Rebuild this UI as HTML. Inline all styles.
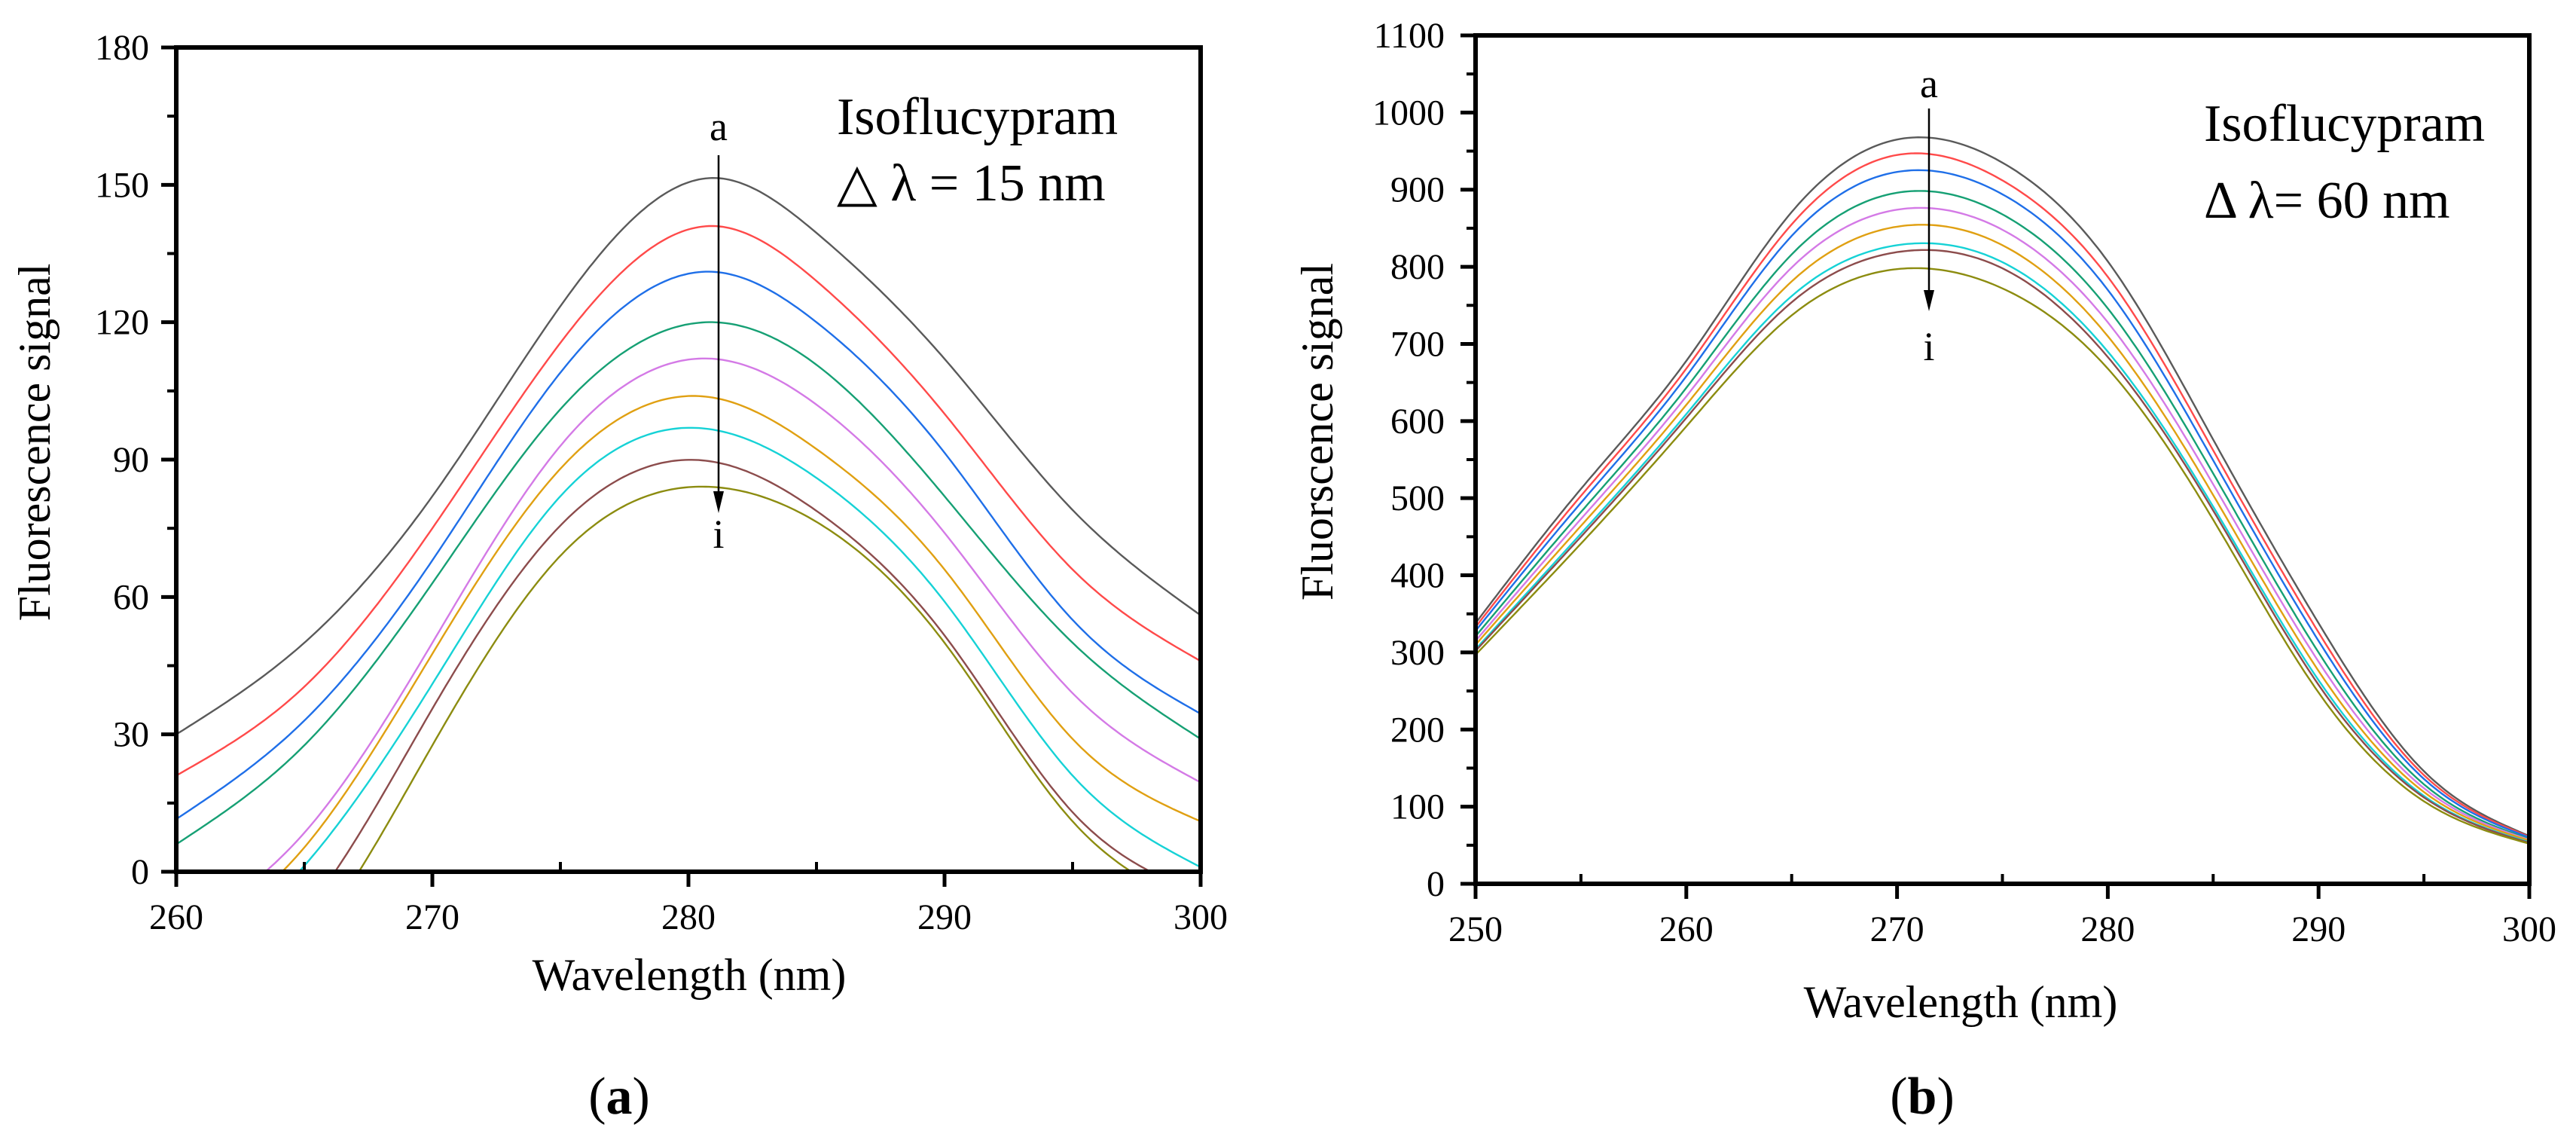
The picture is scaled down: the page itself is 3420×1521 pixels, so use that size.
<!DOCTYPE html>
<html><head><meta charset="utf-8">
<style>
html,body{margin:0;padding:0;background:#fff;}
svg{display:block;}
text{font-family:"Liberation Serif","Times New Roman","DejaVu Serif",serif !important;fill:#000;}
</style></head>
<body>
<svg id="fig" width="3420" height="1521" viewBox="0 0 3420 1521" xmlns="http://www.w3.org/2000/svg" font-family="Liberation Serif, serif">
<defs>
<clipPath id="clipA"><rect x="234" y="63" width="1360" height="1094"/></clipPath>
<clipPath id="clipB"><rect x="1959" y="47" width="1399" height="1126"/></clipPath>
</defs>
<g id="panelA"></g>
<g id="panelB"></g>
</svg>
<script>
// ---- Panel (a) data ----
const xsA = [260,265,270,275,281,285,290,295,300];
const seriesA_a = [30,50,82,123.5,151.5,139.5,112,79,56];
const seriesA_b = [21,40.4,75,115.5,141,129,100,66,46];
const seriesA_c = [11.5,33,68,109,131,120,91.5,55,34.5];
const seriesA_d = [6,27.6,63,101,120,110.7,82,50,29];
const seriesA_e = [-14,8.5,50,93,112,102,74,39,19.5];
const seriesA_f = [-18,5.3,47.6,88,103.5,92.3,66,29,11];
const seriesA_g = [-24,1.3,41,82,96.5,86,59,21,1];
const seriesA_h = [-30,-9,35.6,75.6,89.5,78.8,51.6,13,-5];
const seriesA_i = [-38,-17,27.6,69,84,76.4,50,11,-8];
const xTicksA = [260,270,280,290,300];
const yTicksA = [0,30,60,90,120,150,180];
// ---- Panel (b) data ----
const xsB = [250,255,260,265,270,275,280,285,290,295,300];
const seriesB_a = [338,512,678,871,965,935,807,576,338,146,62];
const seriesB_b = [333,503,668,855,945,912,787,562,326,141,61];
const seriesB_c = [328,494,658,840,923,894,770,549,315,136,60];
const seriesB_d = [321,482,643,816,896,868,746,532,300,129,58];
const seriesB_e = [315,473,632,799,874,848,728,518,288,124,57];
const seriesB_f = [310,464,621,781,852,828,710,504,276,119,56];
const seriesB_g = [304,454,609,762,828,806,690,489,264,114,54];
const seriesB_h = [302,450,604,754,819,798,683,484,258,112,53];
const seriesB_i = [297,441,593,737,797,772,668,472,248,107,52];
const xTicksB = [250,260,270,280,290,300];
const yTicksB = [0,100,200,300,400,500,600,700,800,900,1000,1100];

const colors = ['#5a5a5a','#ff4a4a','#1f6fe8','#16a074','#d47ae6','#e0a012','#16d2d6','#8c4c4c','#8c8c10'];
const NS = 'http://www.w3.org/2000/svg';
const SERIF = 'Liberation Serif, Times New Roman, serif';

function mk(tag, attrs, parent){
  const e = document.createElementNS(NS, tag);
  for (const k in attrs) e.setAttribute(k, attrs[k]);
  parent.appendChild(e);
  return e;
}
function spline(xs, ys){
  const n = xs.length, h=[], a=[], l=[1], mu=[0], z=[0], c=new Array(n).fill(0), b=[], d=[];
  for(let i=0;i<n-1;i++) h[i]=xs[i+1]-xs[i];
  for(let i=1;i<n-1;i++) a[i]=3/h[i]*(ys[i+1]-ys[i])-3/h[i-1]*(ys[i]-ys[i-1]);
  for(let i=1;i<n-1;i++){ l[i]=2*(xs[i+1]-xs[i-1])-h[i-1]*mu[i-1]; mu[i]=h[i]/l[i]; z[i]=(a[i]-h[i-1]*z[i-1])/l[i]; }
  l[n-1]=1; z[n-1]=0;
  for(let j=n-2;j>=0;j--){ c[j]=z[j]-mu[j]*c[j+1]; b[j]=(ys[j+1]-ys[j])/h[j]-h[j]*(c[j+1]+2*c[j])/3; d[j]=(c[j+1]-c[j])/(3*h[j]); }
  return function(x){
    let j=0; while(j<n-2 && x>xs[j+1]) j++;
    const t=x-xs[j]; return ys[j]+b[j]*t+c[j]*t*t+d[j]*t*t*t;
  };
}

function drawPanel(cfg){
  const g = document.getElementById(cfg.id);
  const X = v => cfg.L + (v-cfg.x0)/(cfg.x1-cfg.x0)*(cfg.R-cfg.L);
  const Y = v => cfg.B - (v-cfg.y0)/(cfg.y1-cfg.y0)*(cfg.B-cfg.T);
  const cg = mk('g', {'clip-path':'url(#'+cfg.clip+')'}, g);
  
  
  cfg.series.forEach((ys, k) => {
    const f = spline(cfg.xs, ys);
    let d = '';
    const steps = 300;
    for(let s=0;s<=steps;s++){
      const xv = cfg.x0 + (cfg.x1-cfg.x0)*s/steps;
      d += (s?'L':'M') + X(xv).toFixed(1) + ' ' + Y(f(xv)).toFixed(1);
    }
    const p = mk('path', {d:d, fill:'none', stroke:colors[k], 'stroke-width':2.4}, cg);
    
    
  });
  const fr = mk('rect', {x:cfg.L, y:cfg.T, width:cfg.R-cfg.L, height:cfg.B-cfg.T, fill:'none', stroke:'#000', 'stroke-width':6}, g);
  
  
  cfg.xTicks.forEach((v,i) => {
    const t = mk('line', {x1:X(v), x2:X(v), y1:cfg.B, y2:cfg.B+20, stroke:'#000', 'stroke-width':5}, g);
    
    
    const lb = mk('text', {x:X(v), y:cfg.xLabY, 'text-anchor':'middle', 'font-size':48, 'font-family':SERIF}, g);
    lb.textContent = v;
    
    
    if(i < cfg.xTicks.length-1){
      const mv = (v + cfg.xTicks[i+1])/2;
      const m = mk('line', {x1:X(mv), x2:X(mv), y1:cfg.B, y2:cfg.B-13, stroke:'#000', 'stroke-width':4}, g);
      
      
    }
  });
  cfg.yTicks.forEach((v,i) => {
    const t = mk('line', {x1:cfg.L-20, x2:cfg.L, y1:Y(v), y2:Y(v), stroke:'#000', 'stroke-width':5}, g);
    
    
    const lb = mk('text', {x:cfg.yLabX, y:Y(v)+16, 'text-anchor':'end', 'font-size':48, 'font-family':SERIF}, g);
    lb.textContent = v;
    
    
    if(i < cfg.yTicks.length-1){
      const mv = (v + cfg.yTicks[i+1])/2;
      const m = mk('line', {x1:cfg.L-12, x2:cfg.L, y1:Y(mv), y2:Y(mv), stroke:'#000', 'stroke-width':4}, g);
      
      
    }
  });
}

drawPanel({id:'panelA', clip:'clipA', L:234, R:1594, T:63, B:1157, x0:260, x1:300, y0:0, y1:180,
  xs:xsA, series:[seriesA_a,seriesA_b,seriesA_c,seriesA_d,seriesA_e,seriesA_f,seriesA_g,seriesA_h,seriesA_i],
  xTicks:xTicksA, yTicks:yTicksA, xLabY:1233, yLabX:198});
drawPanel({id:'panelB', clip:'clipB', L:1959, R:3358, T:47, B:1173, x0:250, x1:300, y0:0, y1:1100,
  xs:xsB, series:[seriesB_a,seriesB_b,seriesB_c,seriesB_d,seriesB_e,seriesB_f,seriesB_g,seriesB_h,seriesB_i],
  xTicks:xTicksB, yTicks:yTicksB, xLabY:1249, yLabX:1918});
</script>
<svg style="position:absolute;left:0;top:0" width="3420" height="1521" viewBox="0 0 3420 1521" xmlns="http://www.w3.org/2000/svg" font-family="Liberation Serif, Times New Roman, serif">
<g>
  <text x="46" y="587" transform="rotate(-90 46 587)" text-anchor="middle" dominant-baseline="central" font-size="60">Fluorescence signal</text>
  <text x="915" y="1314" text-anchor="middle" font-size="60">Wavelength (nm)</text>
  <text x="822" y="1478" text-anchor="middle" font-size="70">(<tspan font-weight="bold">a</tspan>)</text>
  <text x="1111" y="178" font-size="70">Isoflucypram</text>
  <text x="1111" y="266" font-size="70">△ λ = 15 nm</text>
  <text x="954" y="186" text-anchor="middle" font-size="54">a</text>
  <line x1="954" y1="206" x2="954" y2="660" stroke="#000" stroke-width="2.5"/>
  <polygon points="947,652 961,652 954,681" fill="#000"/>
  <text x="954" y="727" text-anchor="middle" font-size="54">i</text>
</g>
<g>
  <text x="1749" y="573" transform="rotate(-90 1749 573)" text-anchor="middle" dominant-baseline="central" font-size="60">Fluorscence signal</text>
  <text x="2603" y="1350" text-anchor="middle" font-size="60">Wavelength (nm)</text>
  <text x="2552" y="1478" text-anchor="middle" font-size="70">(<tspan font-weight="bold">b</tspan>)</text>
  <text x="2926" y="187" font-size="70">Isoflucypram</text>
  <text x="2926" y="289" font-size="70">Δ λ= 60 nm</text>
  <text x="2561" y="129" text-anchor="middle" font-size="54">a</text>
  <line x1="2561" y1="144" x2="2561" y2="395" stroke="#000" stroke-width="2.5"/>
  <polygon points="2554,385 2568,385 2561,413" fill="#000"/>
  <text x="2561" y="478" text-anchor="middle" font-size="54">i</text>
</g>
</svg>
</body></html>
